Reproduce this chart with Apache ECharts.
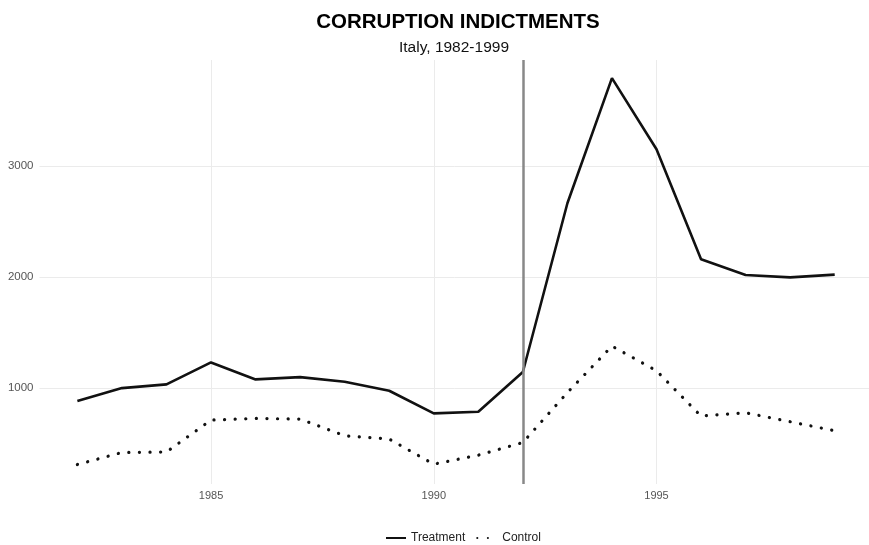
<!DOCTYPE html>
<html>
<head>
<meta charset="utf-8">
<script src="https://cdn.jsdelivr.net/npm/echarts@6/dist/echarts.min.js"></script>
<style>html,body{margin:0;padding:0;background:#fff}#c{width:869px;height:545px}</style>
</head>
<body>
<div id="c"></div>
<script>
var years = [1982,1983,1984,1985,1986,1987,1988,1989,1990,1991,1992,1993,1994,1995,1996,1997,1998,1999];
var treatment = [883,1000,1033,1231,1078,1099,1057,976,772,787,1145,2664,3790,3150,2159,2018,1997,2021];
var control = [312,420,425,712,727,721,571,541,315,396,510,960,1378,1156,748,778,697,616];
var xTicks = [1985,1990,1995];
var yTicks = [1000,2000,3000];
var interventionYear = 1992;

function pairs(xs, ys){ return xs.map(function(x,i){return [x, ys[i]];}); }

var chart = echarts.init(document.getElementById('c'), null, {renderer:'canvas'});
chart.setOption({
  animation:false,
  backgroundColor:'#fff',
  title:[
    {text:'CORRUPTION INDICTMENTS', left:453, top:7, textAlign:'center',
     textStyle:{fontFamily:'Liberation Sans', fontWeight:'bold', fontSize:20.5, color:'#000'}},
    {text:'Italy, 1982-1999', left:449, top:35, textAlign:'center',
     textStyle:{fontFamily:'Liberation Sans', fontWeight:'normal', fontSize:15.5, color:'#111'}}
  ],
  legend:{
    top:527, left:380, itemWidth:20, itemHeight:10, itemGap:11,
    textStyle:{fontFamily:'Liberation Sans', fontSize:12, color:'#222'},
    itemStyle:{opacity:0},
    data:['Treatment','Control']
  },
  grid:{left:39.5, right:0, top:60, bottom:61, containLabel:false},
  xAxis:{
    type:'value', min:1981.15, max:1999.77,
    axisLine:{show:false}, axisTick:{show:false, customValues:xTicks},
    axisLabel:{customValues:xTicks, margin:6, color:'#555', fontSize:11, fontFamily:'Liberation Sans',
      formatter:function(v){return String(v);}},
    splitLine:{show:true, lineStyle:{color:'#ebebeb', width:1}}
  },
  yAxis:{
    type:'value', min:136.5, max:3953.5,
    axisLine:{show:false}, axisTick:{show:false, customValues:yTicks},
    axisLabel:{customValues:yTicks, margin:6, color:'#555', fontSize:11.5, fontFamily:'Liberation Sans',
      formatter:function(v){return String(v);}},
    splitLine:{show:true, lineStyle:{color:'#ebebeb', width:1}}
  },
  series:[
    {
      name:'Treatment', type:'line', data:pairs(years, treatment),
      symbol:'none', color:'#111',
      lineStyle:{color:'#111', width:2.6},
      markLine:{
        silent:true, symbol:'none', label:{show:false},
        lineStyle:{color:'#888', width:2.5, type:'solid'},
        data:[{xAxis:interventionYear}]
      }
    },
    {
      name:'Control', type:'line', data:pairs(years, control),
      symbol:'none', color:'#111',
      lineStyle:{color:'#111', width:3.2, type:[0.1,10.5], cap:'round'}
    }
  ]
});
</script>
</body>
</html>
